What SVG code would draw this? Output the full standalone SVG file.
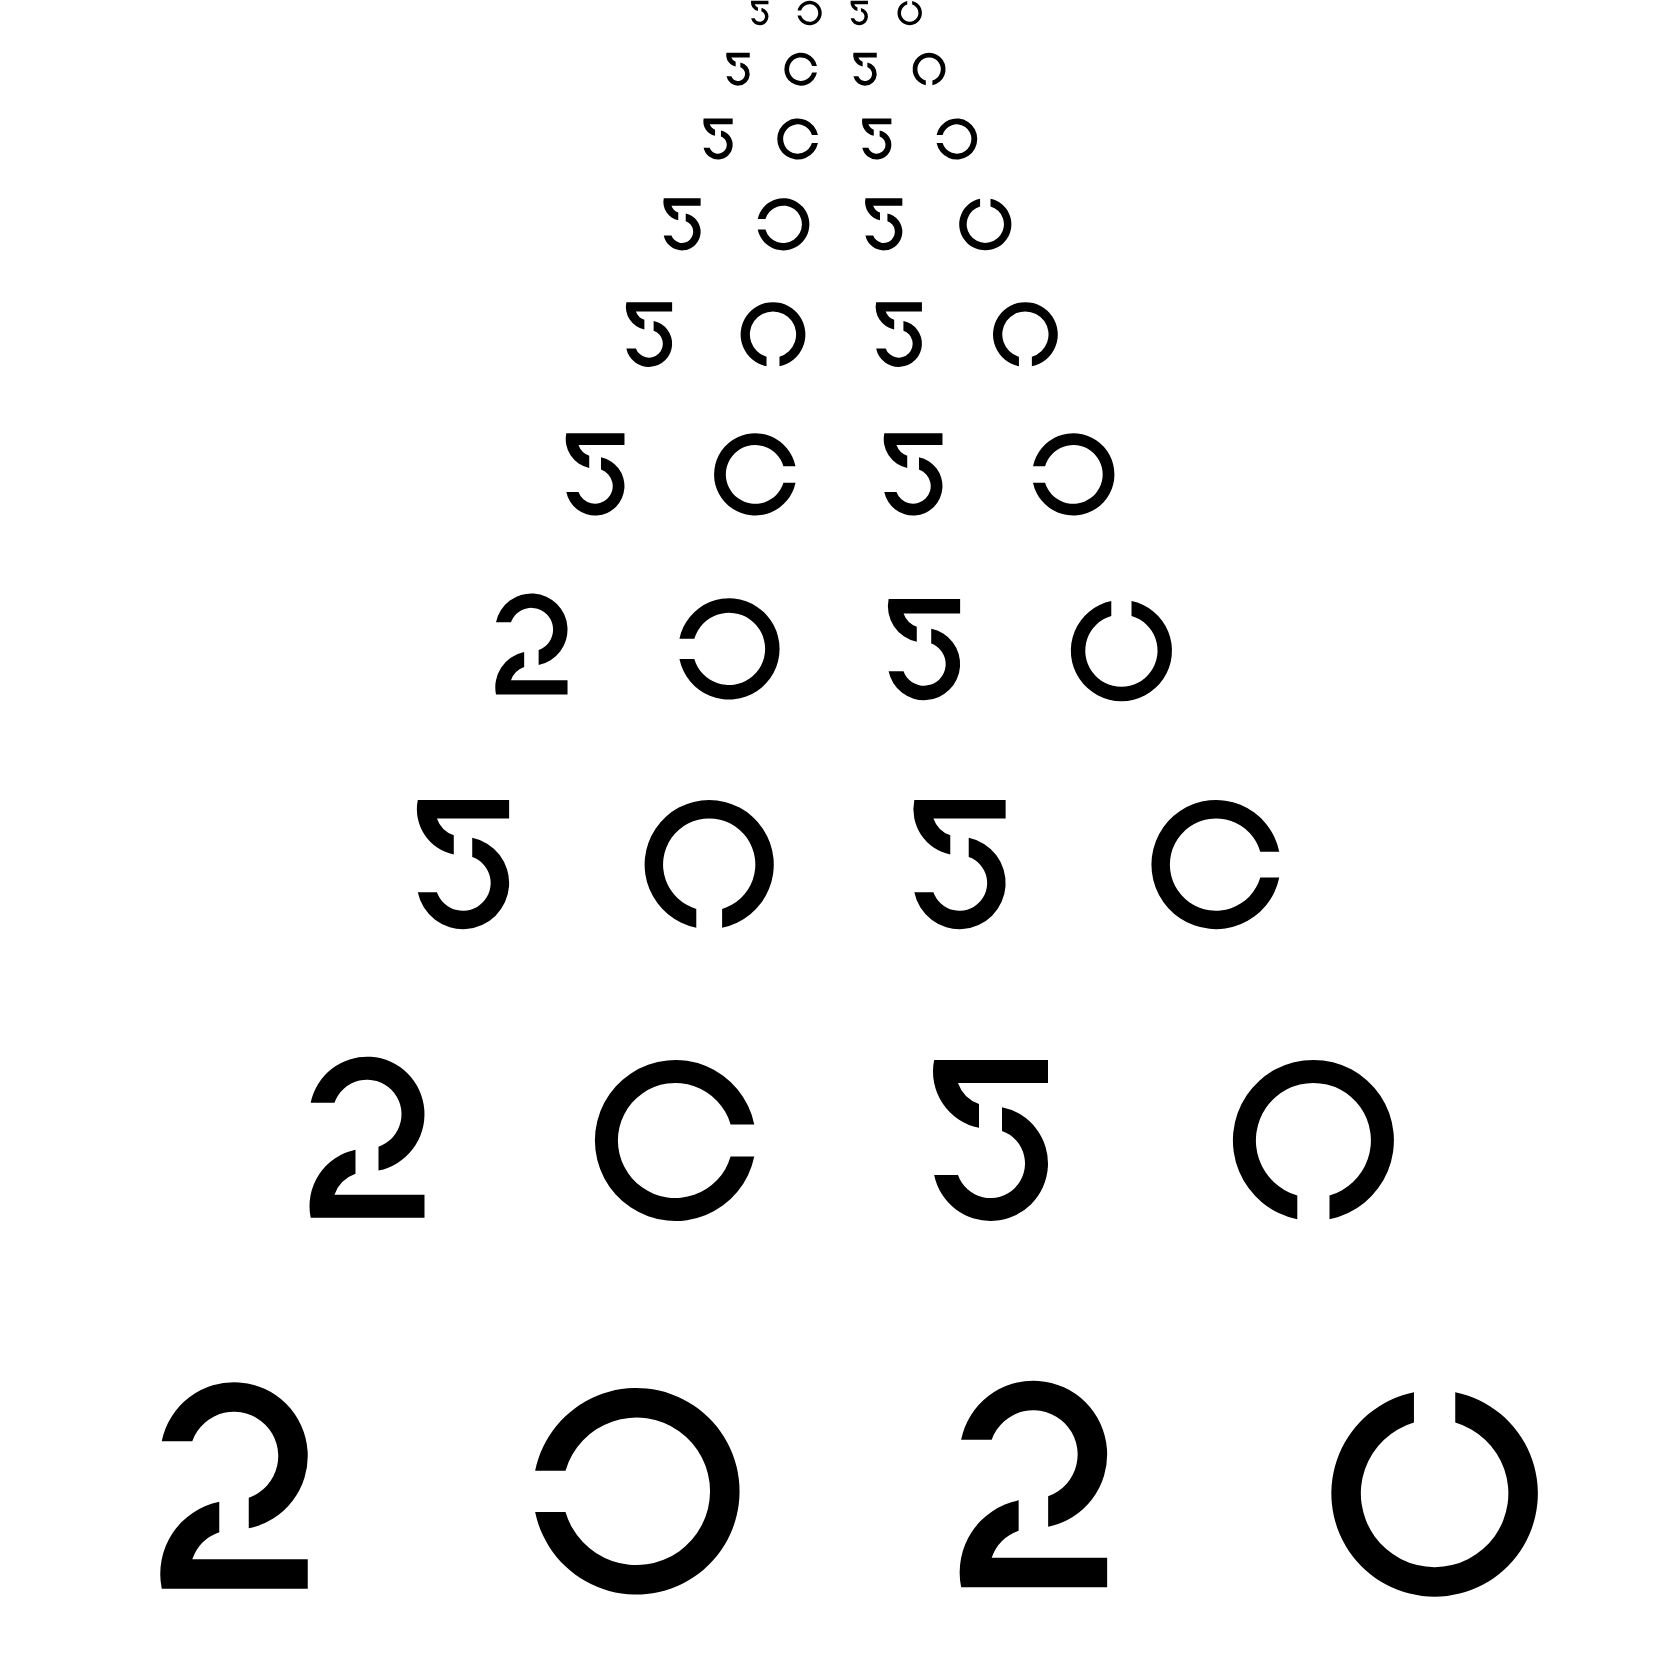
<svg xmlns="http://www.w3.org/2000/svg" width="1657" height="1660" viewBox="0 0 1657 1660">
<defs>
<style>.g{fill:#000;stroke:none}</style>
<path id="g2" class="g" d="M-2.4495,-1.5 A2.5,2.5 0 1 1 0.5,1.4495 L0.5,0.4142 A1.5,1.5 0 1 0 -1.4142,-1.5 Z M-0.5,0.5505 A2.5,2.5 0 0 0 -2.4495,3.5 L2.5,3.5 L2.5,2.5 L-1.4142,2.5 A1.5,1.5 0 0 1 -0.5,1.5858 Z"/>
<path id="gC" class="g" d="M3.4293,-0.7 A3.5,3.5 0 1 0 3.4293,0.7 L2.4,0.7 A2.5,2.5 0 1 1 2.4,-0.7 Z"/>
</defs>
<rect width="1657" height="1660" fill="#fff"/>
<g id="row1">
<use id="r1g1" href="#g2" transform="translate(759.7,13) scale(3.5,-3.5)"/>
<use id="r1g2" href="#gC" transform="translate(809.5,13) scale(3.5) rotate(180)"/>
<use id="r1g3" href="#g2" transform="translate(859.2,13) scale(3.5,-3.5)"/>
<use id="r1g4" href="#gC" transform="translate(909.7,13) scale(3.5) rotate(-90)"/>
</g>
<g id="row2">
<use id="r2g1" href="#g2" transform="translate(738,69.2) scale(4.7,-4.7)"/>
<use id="r2g2" href="#gC" transform="translate(800.8,69.2) scale(4.7)"/>
<use id="r2g3" href="#g2" transform="translate(865,69.2) scale(4.7,-4.7)"/>
<use id="r2g4" href="#gC" transform="translate(929.1,69.2) scale(4.7) rotate(90)"/>
</g>
<g id="row3">
<use id="r3g1" href="#g2" transform="translate(718,139) scale(5.87,-5.87)"/>
<use id="r3g2" href="#gC" transform="translate(797.8,139) scale(5.87)"/>
<use id="r3g3" href="#g2" transform="translate(876.7,139) scale(5.87,-5.87)"/>
<use id="r3g4" href="#gC" transform="translate(956.7,139) scale(5.87) rotate(180)"/>
</g>
<g id="row4">
<use id="r4g1" href="#g2" transform="translate(682,224.3) scale(7.45,-7.45)"/>
<use id="r4g2" href="#gC" transform="translate(783.3,224.3) scale(7.45) rotate(180)"/>
<use id="r4g3" href="#g2" transform="translate(883.7,224.3) scale(7.45,-7.45)"/>
<use id="r4g4" href="#gC" transform="translate(985.3,224.3) scale(7.45) rotate(-90)"/>
</g>
<g id="row5">
<use id="r5g1" href="#g2" transform="translate(649,334.5) scale(9.25,-9.25)"/>
<use id="r5g2" href="#gC" transform="translate(773,334.5) scale(9.25) rotate(90)"/>
<use id="r5g3" href="#g2" transform="translate(898.8,334.5) scale(9.25,-9.25)"/>
<use id="r5g4" href="#gC" transform="translate(1025.4,334.5) scale(9.25) rotate(90)"/>
</g>
<g id="row6">
<use id="r6g1" href="#g2" transform="translate(595.1,474.4) scale(11.75,-11.75)"/>
<use id="r6g2" href="#gC" transform="translate(755.2,474.4) scale(11.75)"/>
<use id="r6g3" href="#g2" transform="translate(913.1,474.4) scale(11.75,-11.75)"/>
<use id="r6g4" href="#gC" transform="translate(1073.3,474.4) scale(11.75) rotate(180)"/>
</g>
<g id="row7">
<use id="r7g1" href="#g2" transform="translate(531.4,644) scale(14.45)"/>
<use id="r7g2" href="#gC" transform="translate(729,648.9) scale(14.45) rotate(180)"/>
<use id="r7g3" href="#g2" transform="translate(924,649.6) scale(14.45,-14.45)"/>
<use id="r7g4" href="#gC" transform="translate(1121.4,650.6) scale(14.45) rotate(-90)"/>
</g>
<g id="row8">
<use id="r8g1" href="#g2" transform="translate(463,864.6) scale(18.45,-18.45)"/>
<use id="r8g2" href="#gC" transform="translate(709.2,864.6) scale(18.45) rotate(90)"/>
<use id="r8g3" href="#g2" transform="translate(959.5,864.6) scale(18.45,-18.45)"/>
<use id="r8g4" href="#gC" transform="translate(1216,864.6) scale(18.45)"/>
</g>
<g id="row9">
<use id="r9g1" href="#g2" transform="translate(367,1137.2) scale(23)"/>
<use id="r9g2" href="#gC" transform="translate(675.4,1140.5) scale(23)"/>
<use id="r9g3" href="#g2" transform="translate(990.5,1140.5) scale(23,-23)"/>
<use id="r9g4" href="#gC" transform="translate(1313.4,1140.4) scale(23) rotate(90)"/>
</g>
<g id="row10">
<use id="r10g1" href="#g2" transform="translate(234,1485.5) scale(29.5)"/>
<use id="r10g2" href="#gC" transform="translate(636.3,1491.3) scale(29.5) rotate(180)"/>
<use id="r10g3" href="#g2" transform="translate(1033.4,1484) scale(29.5)"/>
<use id="r10g4" href="#gC" transform="translate(1434.6,1493.4) scale(29.5) rotate(-90)"/>
</g>
<g id="connectors"/>
</svg>
